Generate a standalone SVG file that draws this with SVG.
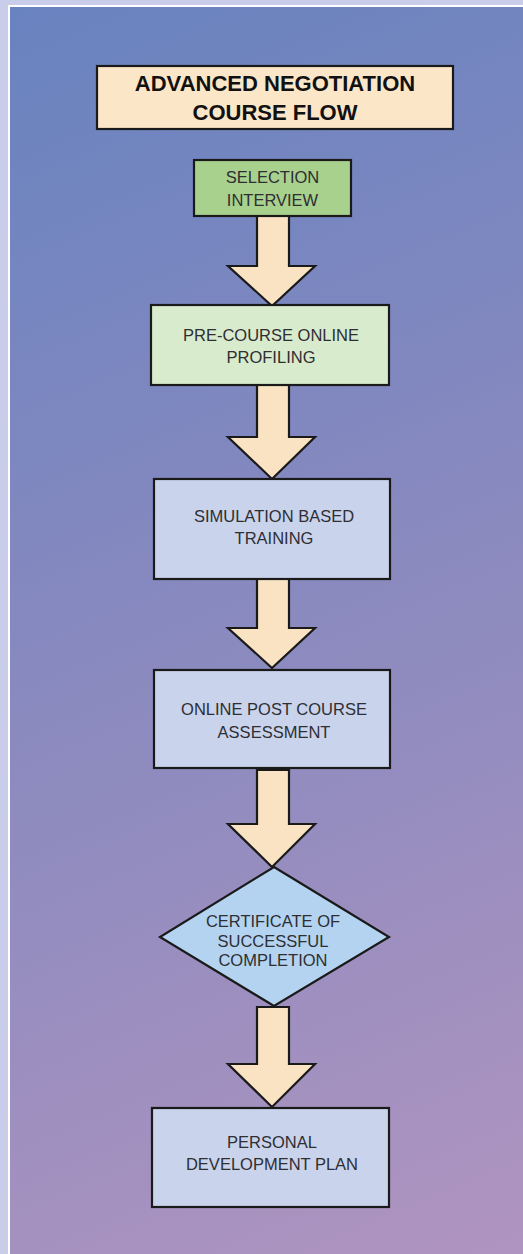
<svg xmlns="http://www.w3.org/2000/svg" width="523" height="1254" viewBox="0 0 523 1254">
<defs>
<linearGradient id="bg" x1="0" y1="0" x2="523" y2="1254" gradientUnits="userSpaceOnUse">
<stop offset="0" stop-color="#6883c0"/>
<stop offset="0.5" stop-color="#8a8abf"/>
<stop offset="1" stop-color="#b094c0"/>
</linearGradient>
<style>
.box{stroke:#1a1a1a;stroke-width:2.2}
.arrow{fill:#f9e3c2;stroke:#1a1a1a;stroke-width:2.2;stroke-linejoin:miter}
.t{font-family:"Liberation Sans",Arial,sans-serif;font-size:16.5px;fill:#2e2e33;text-anchor:middle}
.title{font-family:"Liberation Sans",Arial,sans-serif;font-size:22px;font-weight:bold;fill:#111;text-anchor:middle}
</style>
</defs>
<rect x="0" y="0" width="523" height="1254" fill="#c9cde9"/>
<rect x="8" y="5" width="515" height="1249" fill="#ffffff"/>
<rect x="10" y="7" width="513" height="1247" fill="url(#bg)"/>

<g id="connectors">
<path class="arrow" d="M257,216 V266 H228 L272,306 L315,266 H289 V216 Z"/>
<path class="arrow" d="M257,385 V437 H228 L272,479 L315,437 H289 V385 Z"/>
<path class="arrow" d="M257,579 V628 H228 L272,668 L315,628 H289 V579 Z"/>
<path class="arrow" d="M257,770 V824 H228 L272,867 L315,824 H289 V770 Z"/>
<path class="arrow" d="M257,1007 V1064 H228 L272,1107 L315,1064 H289 V1007 Z"/>
</g>

<g id="title">
<rect class="box" x="97" y="66" width="356" height="63" fill="#fbe6c8"/>
<text class="title" x="275" y="91">ADVANCED NEGOTIATION</text>
<text class="title" x="275" y="120">COURSE FLOW</text>
</g>

<g id="selection-interview">
<rect class="box" x="194" y="160" width="157" height="56" fill="#a9d18e"/>
<text class="t" x="272.5" y="183">SELECTION</text>
<text class="t" x="272.5" y="206">INTERVIEW</text>
</g>

<g id="pre-course">
<rect class="box" x="151" y="305" width="238" height="80" fill="#d9ebcd"/>
<text class="t" x="271" y="341">PRE-COURSE ONLINE</text>
<text class="t" x="271" y="363">PROFILING</text>
</g>

<g id="simulation">
<rect class="box" x="154" y="479" width="236" height="100" fill="#c9d3ec"/>
<text class="t" x="274" y="522">SIMULATION BASED</text>
<text class="t" x="274" y="544">TRAINING</text>
</g>

<g id="post-course">
<rect class="box" x="154" y="670" width="236" height="98" fill="#c9d3ec"/>
<text class="t" x="274" y="715">ONLINE POST COURSE</text>
<text class="t" x="274" y="738">ASSESSMENT</text>
</g>

<g id="certificate">
<path class="box" d="M274,867 L389,937 L274,1006 L160,937 Z" fill="#b3d3f0"/>
<text class="t" x="273" y="927">CERTIFICATE OF</text>
<text class="t" x="273" y="946.5">SUCCESSFUL</text>
<text class="t" x="273" y="966">COMPLETION</text>
</g>

<g id="personal">
<rect class="box" x="152" y="1108" width="237" height="99" fill="#c9d3ec"/>
<text class="t" x="272" y="1148">PERSONAL</text>
<text class="t" x="272" y="1170">DEVELOPMENT PLAN</text>
</g>
</svg>
